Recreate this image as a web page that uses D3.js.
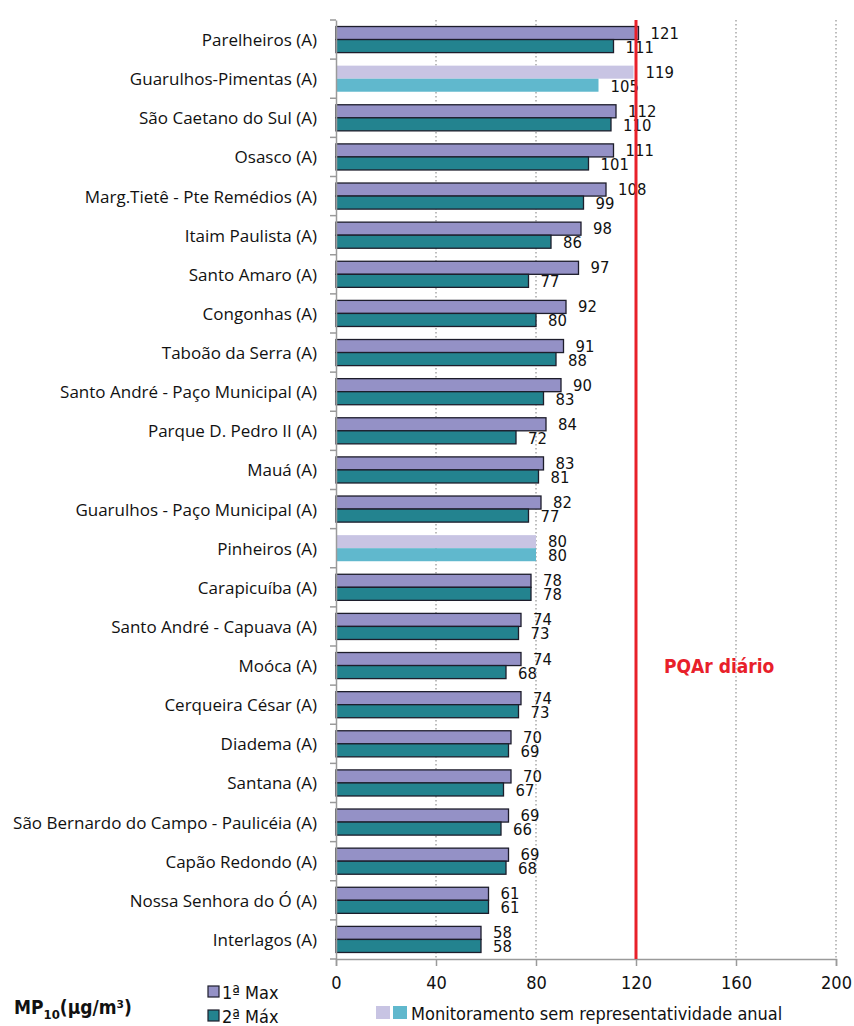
<!DOCTYPE html>
<html>
<head>
<meta charset="utf-8">
<script src="https://cdn.jsdelivr.net/npm/d3@7"></script>
<style>
  body { margin: 0; background: #fff; }
  svg { display: block; }
  .cond { font-family: "DejaVu Sans Condensed", "DejaVu Sans", sans-serif; font-stretch: condensed; }
</style>
</head>
<body>
<div id="chart"></div>
<script>
// MP10 — 1ª e 2ª máximas diárias por estação
const stations = [
  'Parelheiros (A)', 'Guarulhos-Pimentas (A)', 'São Caetano do Sul (A)', 'Osasco (A)',
  'Marg.Tietê - Pte Remédios (A)', 'Itaim Paulista (A)', 'Santo Amaro (A)', 'Congonhas (A)',
  'Taboão da Serra (A)', 'Santo André - Paço Municipal (A)', 'Parque D. Pedro II (A)', 'Mauá (A)',
  'Guarulhos - Paço Municipal (A)', 'Pinheiros (A)', 'Carapicuíba (A)', 'Santo André - Capuava (A)',
  'Moóca (A)', 'Cerqueira César (A)', 'Diadema (A)', 'Santana (A)',
  'São Bernardo do Campo - Paulicéia (A)', 'Capão Redondo (A)', 'Nossa Senhora do Ó (A)', 'Interlagos (A)'
];
const max1 = [121, 119, 112, 111, 108, 98, 97, 92, 91, 90, 84, 83, 82, 80, 78, 74, 74, 74, 70, 70, 69, 69, 61, 58];
const max2 = [111, 105, 110, 101, 99, 86, 77, 80, 88, 83, 72, 81, 77, 80, 78, 73, 68, 73, 69, 67, 66, 68, 61, 58];
// estações sem representatividade anual
const notRepresentative = ['Guarulhos-Pimentas (A)', 'Pinheiros (A)'];
const xTicks = [0, 40, 80, 120, 160, 200];
const pqar = 120;

const W = 854, H = 1026;
const margin = { top: 20, right: 16, bottom: 67, left: 336 };
const width = W - margin.left - margin.right;
const height = H - margin.top - margin.bottom;

const colors = {
  max1: '#9491c6', max2: '#23838f',
  max1Light: '#c8c4e3', max2Light: '#60b8cd',
  stroke: '#1d1d2b', red: '#e8202a', grid: '#9a9a9a', text: '#111'
};

const svg = d3.select('#chart').append('svg')
  .attr('width', W).attr('height', H);

const g = svg.append('g')
  .attr('transform', `translate(${margin.left},${margin.top})`);

const x = d3.scaleLinear().domain([0, 200]).range([0, width - 2]);
const y = d3.scaleBand().domain(stations).range([0, height]).paddingInner(0).paddingOuter(0);
const sub = d3.scaleBand().domain(['a', 'b']).range([0, y.bandwidth()]).paddingOuter(0.5).paddingInner(0);

// dotted gridlines
g.selectAll('.grid').data(xTicks.filter(t => t > 0)).join('line')
  .attr('x1', d => x(d)).attr('x2', d => x(d))
  .attr('y1', 0).attr('y2', height)
  .attr('stroke', colors.grid).attr('stroke-width', 1.3)
  .attr('stroke-dasharray', '1.5,2.5');

// bars
const rows = stations.map((s, i) => ({ s, a: max1[i], b: max2[i], light: notRepresentative.includes(s) }));

rows.forEach(d => {
  const y0 = y(d.s);
  [['a', d.a], ['b', d.b]].forEach(([k, v]) => {
    const fill = k === 'a' ? (d.light ? colors.max1Light : colors.max1) : (d.light ? colors.max2Light : colors.max2);
    g.append('rect')
      .attr('x', x(0)).attr('y', y0 + sub(k))
      .attr('width', x(v) - x(0)).attr('height', sub.bandwidth())
      .attr('fill', fill)
      .attr('stroke', d.light ? 'none' : colors.stroke).attr('stroke-width', 1.3);
    g.append('text')
      .attr('class', 'cond')
      .attr('x', x(v) + 12).attr('y', y0 + sub(k) + sub.bandwidth() / 2 + (k === 'a' ? 0 : 1))
      .attr('dominant-baseline', 'central')
      .attr('font-size', '16.5px').attr('fill', colors.text)
      .text(v);
  });
});

// y axis
const yAxis = g.append('g').call(d3.axisLeft(y).tickSize(0).tickFormat(''));
yAxis.select('.domain').attr('stroke', colors.grid).attr('stroke-width', 1.5);
g.selectAll('.ytick').data(stations.concat([null])).join('line')
  .attr('x1', -6).attr('x2', 0)
  .attr('y1', (d, i) => i * y.step()).attr('y2', (d, i) => i * y.step())
  .attr('stroke', colors.grid).attr('stroke-width', 1.5);

// station labels
g.selectAll('.lbl').data(stations).join('text')
  .attr('x', -19).attr('y', d => y(d) + y.bandwidth() / 2)
  .attr('text-anchor', 'end').attr('dominant-baseline', 'central')
  .attr('font-family', '"Open Sans", sans-serif').attr('font-size', '17px')
  .attr('fill', colors.text)
  .text(d => d);

// x axis
const xAxis = g.append('g').attr('transform', `translate(0,${height})`)
  .call(d3.axisBottom(x).tickValues(xTicks).tickSize(7).tickPadding(10));
xAxis.select('.domain').attr('stroke', colors.grid).attr('stroke-width', 1.5);
xAxis.selectAll('line').attr('stroke', colors.grid).attr('stroke-width', 1.5);
xAxis.selectAll('text').attr('class', 'cond').attr('font-size', '18px').attr('fill', colors.text);

// PQAr line
g.append('line')
  .attr('x1', x(pqar)).attr('x2', x(pqar))
  .attr('y1', 0).attr('y2', height)
  .attr('stroke', colors.red).attr('stroke-width', 3);
g.append('text')
  .attr('class', 'cond')
  .attr('x', x(pqar) + 28).attr('y', y('Moóca (A)') + y.bandwidth() / 2)
  .attr('dominant-baseline', 'central')
  .attr('font-size', '19px').attr('font-weight', 'bold').attr('fill', colors.red)
  .text('PQAr diário');

// legend
const unit = svg.append('text')
  .attr('class', 'cond')
  .attr('x', 14).attr('y', 1014)
  .attr('font-size', '19px').attr('font-weight', 'bold').attr('fill', colors.text);
unit.append('tspan').text('MP');
unit.append('tspan').attr('font-size', '13px').attr('dy', 5).text('10');
unit.append('tspan').attr('dy', -5).text('(µg/m³)');

const legendItems = [
  { label: '1ª Max', fill: colors.max1, y: 986 },
  { label: '2ª Máx', fill: colors.max2, y: 1010 }
];
legendItems.forEach(d => {
  svg.append('rect')
    .attr('x', 208).attr('y', d.y).attr('width', 11).attr('height', 11)
    .attr('fill', d.fill).attr('stroke', colors.stroke).attr('stroke-width', 1.2);
  svg.append('text')
    .attr('class', 'cond')
    .attr('x', 222).attr('y', d.y + 6)
    .attr('dominant-baseline', 'central')
    .attr('font-size', '18px').attr('fill', colors.text)
    .text(d.label);
});

[colors.max1Light, colors.max2Light].forEach((c, i) => {
  svg.append('rect')
    .attr('x', 376 + i * 17).attr('y', 1006).attr('width', 14).attr('height', 13)
    .attr('fill', c);
});
svg.append('text')
  .attr('class', 'cond')
  .attr('x', 411).attr('y', 1013)
  .attr('dominant-baseline', 'central')
  .attr('font-size', '18px').attr('fill', colors.text)
  .text('Monitoramento sem representatividade anual');
</script>
</body>
</html>
